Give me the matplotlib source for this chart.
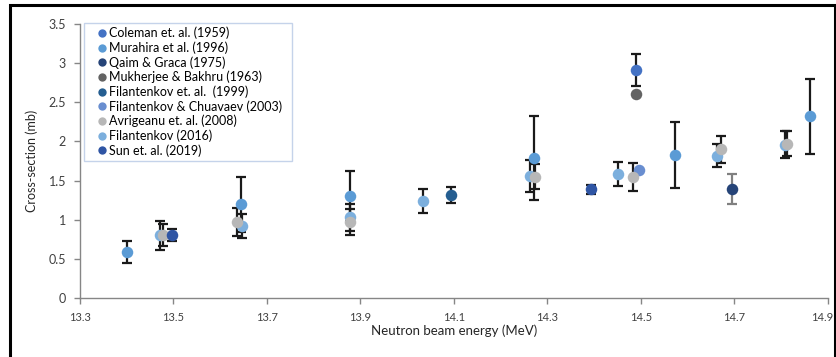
import numpy as np
import matplotlib.pyplot as plt
import matplotlib.transforms as mtransforms
from matplotlib.lines import Line2D
from matplotlib.patches import Rectangle

plt.rcParams['font.family'] = ['Lato', 'DejaVu Sans']

# data (energy MeV, cross-section mb, error mb)
coleman_e = [14.49]
coleman_v = [2.91]
coleman_err = [0.20]

murahira_e = [13.40, 13.645, 13.878, 14.272, 14.573, 14.862]
murahira_v = [0.59, 1.20, 1.30, 1.79, 1.83, 2.32]
murahira_err = [0.145, 0.35, 0.32, 0.54, 0.42, 0.48]

qaim_e = [14.694]
qaim_v = [1.39]
qaim_err = [0.195]

mukherjee_e = [14.49]
mukherjee_v = [2.60]

fil1999_e = [14.094]
fil1999_v = [1.32]
fil1999_err = [0.10]

chuavaev_e = [14.495]
chuavaev_v = [1.63]

avrigeanu_e = [13.478, 13.636, 13.878, 14.273, 14.484, 14.671, 14.812]
avrigeanu_v = [0.80, 0.97, 0.97, 1.55, 1.55, 1.90, 1.97]
avrigeanu_err = [0.14, 0.18, 0.17, 0.16, 0.18, 0.17, 0.16]

fil2016_e = [13.472, 13.646, 13.878, 14.034, 14.263, 14.452, 14.662, 14.808]
fil2016_v = [0.80, 0.92, 1.03, 1.24, 1.56, 1.58, 1.82, 1.96]
fil2016_err = [0.18, 0.15, 0.17, 0.155, 0.20, 0.155, 0.15, 0.17]

sun_e = [13.497, 14.393]
sun_v = [0.81, 1.39]
sun_err = [0.075, 0.06]

labels = ['Coleman et. al. (1959)', 'Murahira et al. (1996)', 'Qaim & Graca (1975)',
          'Mukherjee & Bakhru (1963)', 'Filantenkov et. al.  (1999)',
          'Filantenkov & Chuavaev (2003)', 'Avrigeanu et. al. (2008)',
          'Filantenkov (2016)', 'Sun et. al. (2019)']
colors = ['#4472C4', '#5B9BD5', '#264478', '#636363', '#255E91',
          '#698ED0', '#B7B7B7', '#7CAFDD', '#2F55A4']
xtick_labels = ['13.3', '13.5', '13.7', '13.9', '14.1', '14.3', '14.5', '14.7', '14.9']
ytick_labels = ['0', '0.5', '1', '1.5', '2', '2.5', '3', '3.5']

series = [
    (coleman_e, coleman_v, coleman_err),
    (murahira_e, murahira_v, murahira_err),
    (qaim_e, qaim_v, qaim_err),
    (mukherjee_e, mukherjee_v, None),
    (fil1999_e, fil1999_v, fil1999_err),
    (chuavaev_e, chuavaev_v, None),
    (avrigeanu_e, avrigeanu_v, avrigeanu_err),
    (fil2016_e, fil2016_v, fil2016_err),
    (sun_e, sun_v, sun_err),
]
zorders = [5, 4, 5, 5, 5, 6, 6, 5, 7]

fig = plt.figure(figsize=(8.37, 3.57), dpi=100)
ax = fig.add_axes([0.0956, 0.165, 0.8934, 0.768])

for i, (e, v, err) in enumerate(series):
    if err is not None:
        ecol = '#808080' if i == 2 else '#1a1a1a'
        ax.errorbar(e, v, yerr=err, fmt='none', ecolor=ecol, elinewidth=1.6,
                    capsize=3.6, capthick=1.6, zorder=3)
    ax.plot(e, v, 'o', color=colors[i], markersize=8.3, markeredgewidth=0,
            linestyle='none', zorder=zorders[i])

ax.set_xlim(13.3, 14.9)
ax.set_ylim(0, 3.5)
ax.set_xticks(np.arange(13.3, 14.95, 0.2))
ax.set_xticklabels(xtick_labels, fontsize=8)
ax.set_yticks(np.arange(0, 3.6, 0.5))
ax.set_yticklabels(ytick_labels, fontsize=9)

for s in ['top', 'right']:
    ax.spines[s].set_visible(False)
for s in ['left', 'bottom']:
    ax.spines[s].set_color('#868686')
    ax.spines[s].set_linewidth(1.0)
ax.tick_params(axis='both', direction='out', length=4, width=1.0, color='#868686',
               labelcolor='#404040')
ax.tick_params(axis='y', pad=6)
ax.tick_params(axis='x', pad=6)

# last x label would run into the frame, nudge it left a bit
last = ax.get_xticklabels()[-1]
last.set_transform(last.get_transform() +
                   mtransforms.ScaledTranslation(-6 / 100, 0, fig.dpi_scale_trans))

ax.set_xlabel('Neutron beam energy (MeV)', fontsize=9.5, color='#262626', labelpad=1)
ax.set_ylabel('Cross-section (mb)', fontsize=9, color='#262626', labelpad=8)

handles = [Line2D([], [], marker='o', linestyle='none', color=c, markersize=6,
                  markeredgewidth=0) for c in colors]
leg = ax.legend(handles, labels, loc='upper left', mode='expand',
                bbox_to_anchor=(4 / 748, 0.3, 208 / 748, 0.703),
                fontsize=9, frameon=True, fancybox=False, framealpha=1,
                edgecolor='#C5D3EA', borderpad=0.3, labelspacing=0.17,
                handlelength=2.2, handletextpad=-0.5, borderaxespad=0)
leg.get_frame().set_linewidth(1.0)
leg.set_zorder(10)

# outer black frame of the original picture
fig.patches.append(Rectangle((10 / 837, -0.05), 825 / 837, 1.05 - 5 / 357,
                             transform=fig.transFigure, fill=False,
                             edgecolor='black', linewidth=2.2))

fig.savefig('out.png', dpi=100)
